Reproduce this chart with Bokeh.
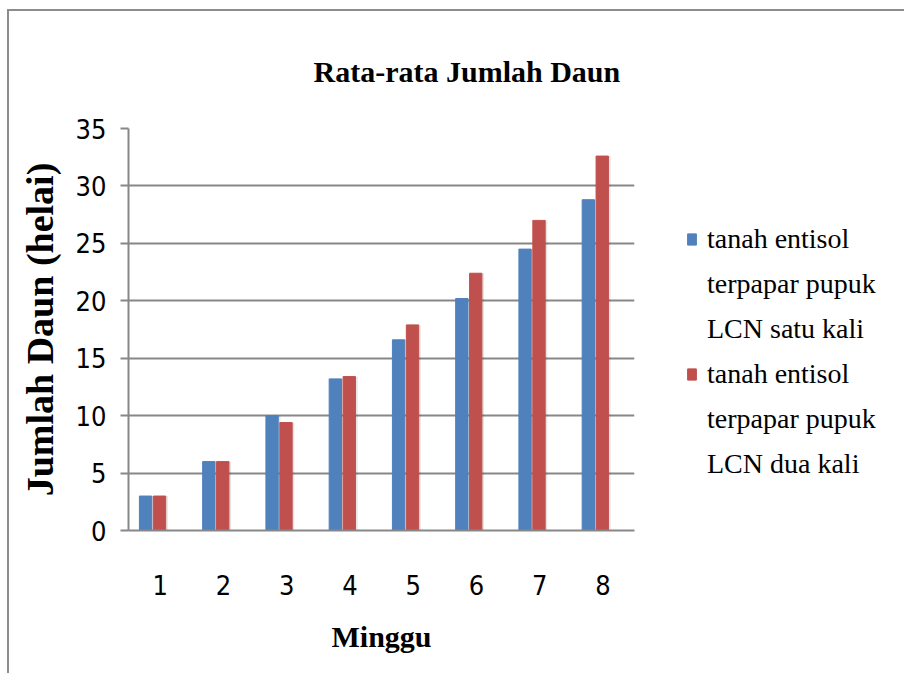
from bokeh.plotting import figure
from bokeh.models import Range1d, FactorRange, ColumnDataSource, Legend, LegendItem
from bokeh.transform import dodge
from bokeh.embed import file_html
from bokeh.resources import INLINE

weeks = ["1", "2", "3", "4", "5", "6", "7", "8"]
satu_kali = [3.0, 6.0, 10.0, 13.2, 16.6, 20.2, 24.5, 28.8]
dua_kali = [3.0, 6.0, 9.4, 13.4, 17.9, 22.4, 27.0, 32.6]
y_ticks = [0, 5, 10, 15, 20, 25, 30, 35]
label_satu = ["tanah entisol", "terpapar pupuk", "LCN satu kali"]
label_dua = ["tanah entisol", "terpapar pupuk", "LCN dua kali"]

BLUE = "#4F81BD"
RED = "#C0504D"
GRID = "#878787"

src = ColumnDataSource(dict(week=weeks, satu=satu_kali, dua=dua_kali))

p = figure(x_range=FactorRange(*weeks), y_range=Range1d(0, 35),
           frame_width=506, frame_height=402,
           min_border_left=119, min_border_right=262, min_border_top=117, min_border_bottom=143,
           output_backend="svg", toolbar_location=None)
p.styles = {"border-top": "2px solid #8c8c8c", "border-left": "2px solid #8c8c8c",
            "margin-left": "7px", "margin-top": "9px"}

p.title.text = "Rata-rata Jumlah Daun"
p.title.text_font = "Liberation Serif"
p.title.text_font_style = "bold"
p.title.text_font_size = "30px"
p.title.text_color = "black"
p.title.align = "left"
p.title.offset = 185
p.title.standoff = 81

bw = 0.195
# soft shadows
p.vbar(x=dodge("week", -0.23 + 0.035, range=p.x_range), top="satu", width=bw, source=src,
       fill_color="#000000", fill_alpha=0.10, line_color=None)
p.vbar(x=dodge("week", -0.01 + 0.035, range=p.x_range), top="dua", width=bw, source=src,
       fill_color="#000000", fill_alpha=0.10, line_color=None)

r1 = p.vbar(x=dodge("week", -0.23, range=p.x_range), top="satu", width=bw, source=src,
            fill_color=BLUE, line_color=BLUE)
r2 = p.vbar(x=dodge("week", -0.01, range=p.x_range), top="dua", width=bw, source=src,
            fill_color=RED, line_color=RED)
blank = p.vbar(x=[], top=[], width=0.1, fill_alpha=0, line_alpha=0)

p.outline_line_color = None
p.xgrid.grid_line_color = None
p.ygrid.grid_line_color = GRID
p.ygrid.grid_line_width = 2
p.yaxis.ticker = y_ticks

tick_font = "DejaVu Sans Condensed"
p.yaxis.axis_line_color = GRID
p.yaxis.axis_line_width = 2
p.yaxis.major_tick_line_color = GRID
p.yaxis.major_tick_line_width = 2
p.yaxis.major_tick_out = 8
p.yaxis.major_tick_in = 0
p.yaxis.minor_tick_line_color = None
p.yaxis.major_label_text_font = tick_font
p.yaxis.major_label_text_font_size = "27px"
p.yaxis.major_label_text_color = "black"
p.yaxis.major_label_standoff = 14
p.yaxis.axis_label = "Jumlah Daun (helai)"
p.yaxis.axis_label_text_font = "Liberation Serif"
p.yaxis.axis_label_text_font_style = "bold"
p.yaxis.axis_label_text_font_size = "38px"
p.yaxis.axis_label_text_color = "black"
p.yaxis.axis_label_standoff = 12

p.xaxis.axis_line_color = GRID
p.xaxis.axis_line_width = 2
p.xaxis.major_tick_line_color = None
p.xaxis.minor_tick_line_color = None
p.xaxis.major_label_text_font = tick_font
p.xaxis.major_label_text_font_size = "27px"
p.xaxis.major_label_text_color = "black"
p.xaxis.major_label_standoff = 38
p.xaxis.axis_label = "Minggu"
p.xaxis.axis_label_text_font = "Liberation Serif"
p.xaxis.axis_label_text_font_style = "bold"
p.xaxis.axis_label_text_font_size = "30px"
p.xaxis.axis_label_text_color = "black"
p.xaxis.axis_label_standoff = 22
p.x_range.range_padding = 0
p.x_range.group_padding = 0

items = [LegendItem(label=label_satu[0], renderers=[r1])]
items += [LegendItem(label=t, renderers=[blank]) for t in label_satu[1:]]
items += [LegendItem(label=label_dua[0], renderers=[r2])]
items += [LegendItem(label=t, renderers=[blank]) for t in label_dua[1:]]
legend = Legend(items=items, location=(52, 50), orientation="vertical")
legend.border_line_color = None
legend.background_fill_alpha = 0
legend.padding = 0
legend.margin = 0
legend.spacing = 13
legend.glyph_width = 11
legend.glyph_height = 14
legend.label_standoff = 10
legend.label_text_font = "Liberation Serif"
legend.label_text_font_size = "28px"
legend.label_text_color = "black"
p.add_layout(legend, "right")

open("out.html", "w").write(file_html(p, INLINE))
